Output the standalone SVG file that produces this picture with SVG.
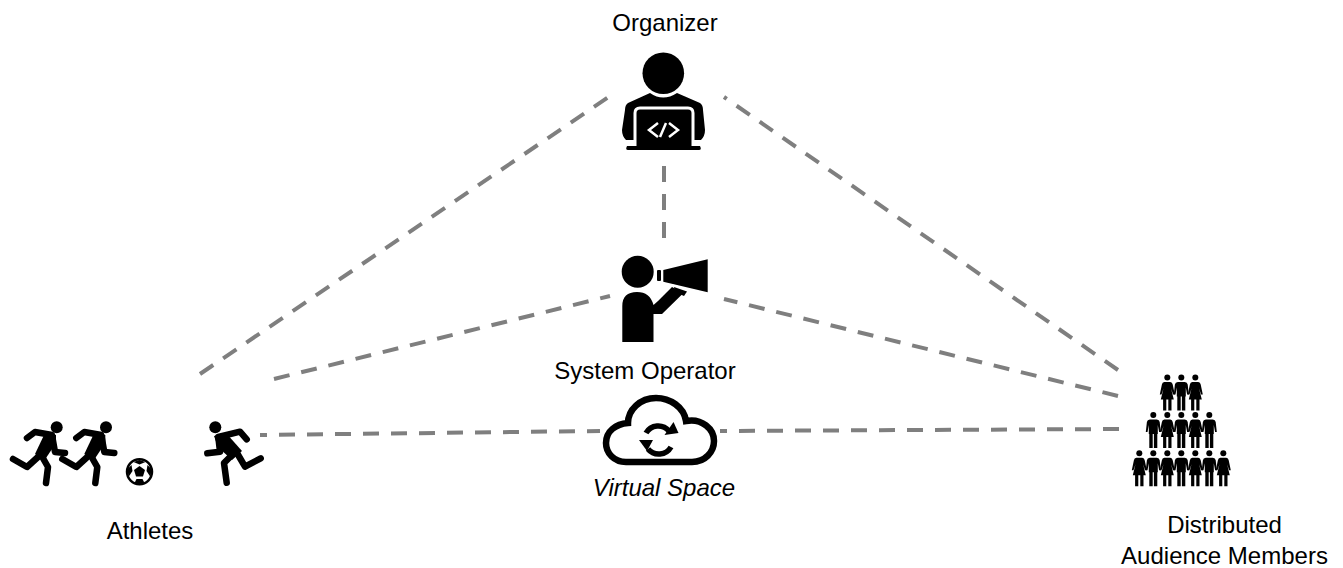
<svg xmlns="http://www.w3.org/2000/svg" width="1343" height="568" viewBox="0 0 1343 568">
<style>
text{font-family:"Liberation Sans",Arial,sans-serif;font-size:24px;fill:#000;text-anchor:middle}
.c line{stroke:#7f7f7f;stroke-width:4;stroke-dasharray:16 12;fill:none}
.limb{fill:none;stroke:#000;stroke-width:6.500;stroke-linecap:round;stroke-linejoin:round}
</style>
<defs>
<g id="runner">
<circle cx="56.700" cy="19.300" r="6"/>
<path class="limb" d="M27 30 L35 24 L52 27 L55 44 L65 45"/>
<path d="M45 25 L56 27 L56 35 L44 53 L35 46Z"/>
<path class="limb" d="M38 49 L27 59 L13 51"/>
<path class="limb" d="M40 45 L48 59 L46 75"/>
</g>
<g id="man"><circle cx="0" cy="0" r="3"/><path d="M-3.500 4.500 H3.500 Q6 4.500 6.400 7 L7.500 17 H5.800 L4.500 10 V19 H4 V33 H0.600 V19 H-0.600 V33 H-4 V19 H-4.500 V10 L-5.800 17 H-7.500 L-6.400 7 Q-6 4.500 -3.500 4.500Z"/></g>
<g id="woman"><circle cx="0" cy="0" r="3"/><path d="M-3 4.500 H3 Q5 4.500 5.400 7 L7.500 17 H5.800 L3.800 11 L6.500 22 H4.200 V33 H1 V22 H-1 V33 H-4.200 V22 H-6.500 L-3.800 11 L-5.800 17 H-7.500 L-5.400 7 Q-5 4.500 -3 4.500Z"/></g>
</defs>
<g class="c" id="connectors">
<line x1="200" y1="374" x2="610" y2="96"/>
<line x1="1118" y1="370" x2="724" y2="97"/>
<line x1="664" y1="166" x2="664" y2="240"/>
<line x1="274" y1="379" x2="610" y2="296"/>
<line x1="1118" y1="396" x2="724" y2="299"/>
<line x1="260" y1="435" x2="600" y2="431" stroke-dashoffset="9"/>
<line x1="1119" y1="429" x2="720" y2="431"/>
</g>
<g id="organizer">
<text x="665" y="31">Organizer</text>
<circle cx="663.300" cy="73.300" r="20.800"/>
<path d="M650 93 Q663 102 677 93 L700 103 Q703 105 703 110 L705 130 Q705 136 701 140 H626 Q622 136 622 130 L625 110 Q625 105 628 103Z"/>
<path d="M635 146 V113 Q635 108 640 108 H688 Q693 108 693 113 V146" fill="#000" stroke="#fff" stroke-width="3"/>
<path d="M627 146 H700 Q702 150 699 150 H628 Q625 150 627 146Z"/>
<path d="M658 123 L649 130 L658 137 M669 123 L678 130 L669 137 M666 123 L660 137" fill="none" stroke="#fff" stroke-width="2.500"/>
</g>
<g id="operator">
<circle cx="637.700" cy="271.700" r="16"/>
<path d="M622.300 342 V306 Q622.300 292 637 292 Q650 292 653.500 305 L658 301 L672 287 L683.500 293 L662 314 H653.500 V342Z"/>
<path d="M663.300 270 L707.700 259.300 V292.300 L663.300 281.700Z"/>
<rect x="657" y="270" width="4" height="11" rx="1"/>
<path d="M673 284.500 L688 289 L687 292 L675 288.500Z" fill="#fff"/>
<path d="M674 287 L687 291.500 L684 296 L675 292Z"/>
<text x="645" y="379">System Operator</text>
</g>
<g id="virtual-space">
<path d="M626 462 H692 C705 462 714 452 714 441 C714 429 702 418 686 421 C684 407 670 398 656 398 C640 398 628 410 628 423 C616 424 606 431 606 443 C606 453 614 462 626 462Z" fill="#fff" stroke="#000" stroke-width="6.500"/>
<path d="M646 433 A14 14 0 0 1 669 431" fill="none" stroke="#000" stroke-width="5.500"/>
<path d="M664.500 435 L678.500 433 L673.500 422Z"/>
<path d="M671 447 A14 14 0 0 1 648 449" fill="none" stroke="#000" stroke-width="5.500"/>
<path d="M639 440 L653 440 L647 451Z"/>
<text x="664" y="496" font-style="italic">Virtual Space</text>
</g>
<g id="athletes">
<use href="#runner" x="0" y="408"/>
<use href="#runner" x="49.300" y="408"/>
<circle cx="139.500" cy="471.700" r="12.500" fill="#fff" stroke="#000" stroke-width="2.500"/>
<path d="M139.500 466 L145 470 L143 476.500 H136 L134 470Z"/>
<path d="M133.500 462 L139.500 460 L145.500 462 L139.500 464.500Z M127.500 469 L131.500 465 L132.500 471 L128.500 477Z M151.500 469 L147.500 465 L146.500 471 L150.500 477Z M134.500 483 L136.500 479 H142.500 L144.500 483 L139.500 484.500Z"/>
<circle cx="215.300" cy="427.300" r="6"/>
<path class="limb" d="M207.300 453.300 L220 451.700 L218.300 437 L240 431.700 L246.700 439.300"/>
<path d="M214 436 L226 433 L242 451 L232 460 L218 447Z"/>
<path class="limb" d="M235 452 L224 463 L226.700 482.700"/>
<path class="limb" d="M237 453 L245 466.700 L260.700 458.300"/>
<text x="150" y="539">Athletes</text>
</g>
<g id="audience">
<use href="#woman" x="1167.300" y="377.500"/><use href="#man" x="1181.300" y="377.500"/><use href="#woman" x="1195.300" y="377.500"/>
<use href="#man" x="1153.300" y="415"/><use href="#woman" x="1167.300" y="415"/><use href="#man" x="1181.300" y="415"/><use href="#woman" x="1195.300" y="415"/><use href="#man" x="1209.300" y="415"/>
<use href="#woman" x="1139.300" y="453.300"/><use href="#man" x="1153.300" y="453.300"/><use href="#woman" x="1167.300" y="453.300"/><use href="#man" x="1181.300" y="453.300"/><use href="#woman" x="1195.300" y="453.300"/><use href="#man" x="1209.300" y="453.300"/><use href="#woman" x="1223.300" y="453.300"/>
<text x="1224.500" y="533">Distributed</text>
<text x="1224.500" y="564">Audience Members</text>
</g>
</svg>
